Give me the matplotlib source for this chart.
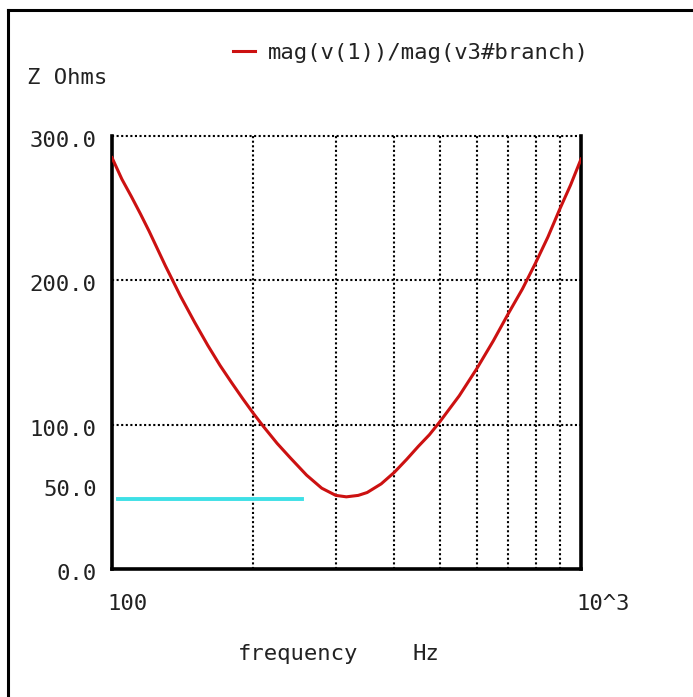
import matplotlib as mpl
import matplotlib.pyplot as plt
import matplotlib.transforms as mtransforms
from matplotlib.lines import Line2D
from matplotlib.ticker import FixedLocator, NullFormatter

plt.rcParams['font.family'] = ['DejaVu Sans Mono']

# impedance trace
freq = [100, 105, 110, 115, 120, 130, 140, 150, 160, 170, 180, 190, 200, 210, 225, 240, 260, 280,
        300, 316, 335, 350, 375, 400, 425, 450, 475, 500, 550, 600, 650, 700, 750, 800, 850, 900, 950, 1000]
z_ohms = [285, 270, 258, 246, 234, 210, 189, 171, 155, 141, 129, 118, 108, 99, 87, 77, 65, 56,
          51, 50, 51, 53, 59, 67, 76, 85, 93, 102, 120, 139, 158, 177, 194, 212, 230, 249, 266, 284]

# cyan marker line
ref_freq = [103, 254]
ref_z = [48.5, 48.5]

y_ticks = [0, 50, 100, 200, 300]
y_labels = ["0.0", "50.0", "100.0", "200.0", "300.0"]
y_grid = [100, 200, 300]
x_ticks = [100, 1000]
x_labels = ["100", "10^3"]
x_grid = [200, 300, 400, 500, 600, 700, 800, 900]

W, H = 693, 697
fig = plt.figure(figsize=(W / 100, H / 100), dpi=100)
ax = fig.add_axes([112 / W, 128 / H, 469 / W, 433 / H])

ax.plot(freq, z_ohms, color='#cc1111', lw=2.2, label="mag(v(1))/mag(v3#branch)", zorder=4)
ax.plot(ref_freq, ref_z, color='#3ee0e6', lw=2.8, zorder=3)

ax.set_xscale('log')
ax.set_xlim(100, 1000)
ax.set_ylim(0, 300)

ax.set_xticks(x_ticks)
ax.set_xticklabels(x_labels)
ax.xaxis.set_minor_locator(FixedLocator(x_grid))
ax.xaxis.set_minor_formatter(NullFormatter())
ax.set_yticks(y_ticks)
ax.set_yticklabels(y_labels)

ax.tick_params(which='both', length=0, labelsize=16, colors='#222222')
ax.tick_params(axis='x', pad=18)
ax.tick_params(axis='y', pad=11)

grid_kw = dict(color='black', lw=1.5, linestyle=(0, (1, 1.2)))
ax.grid(False)
ax.grid(which='minor', axis='x', **grid_kw)
for yv in y_grid:
    ax.axhline(yv, zorder=1, clip_on=False, **grid_kw)

for side in ['left', 'right', 'bottom']:
    ax.spines[side].set_linewidth(2.6)
    ax.spines[side].set_color('black')
ax.spines['top'].set_visible(False)

# label nudges to match the original layout
for lbl in ax.get_xticklabels():
    lbl.set_horizontalalignment('left')
    lbl.set_transform(lbl.get_transform() + mtransforms.ScaledTranslation(-5 / 100, 0, fig.dpi_scale_trans))
for val, lbl in zip(y_ticks, ax.get_yticklabels()):
    dy = 9 if val == 50 else -3
    lbl.set_transform(lbl.get_transform() + mtransforms.ScaledTranslation(0, dy / 100, fig.dpi_scale_trans))

ax.legend(loc='center left', bbox_to_anchor=(222 / W, 1 - 53 / H), bbox_transform=fig.transFigure,
          frameon=False, fontsize=16, handlelength=1.0, handletextpad=0.55, borderpad=0,
          labelcolor='#222222')

fig.text(27 / W, 1 - 78 / H, "Z Ohms", fontsize=16, ha='left', va='center', color='#222222')
fig.text(238 / W, 1 - 654 / H, "frequency", fontsize=16, ha='left', va='center', color='#222222')
fig.text(413 / W, 1 - 654 / H, "Hz", fontsize=16, ha='left', va='center', color='#222222')

# screenshot frame (top and left only)
fig.add_artist(Line2D([8 / W, 8 / W], [0, 1 - 10 / H], color='black', lw=2.2, transform=fig.transFigure))
fig.add_artist(Line2D([8 / W, 1], [1 - 10 / H, 1 - 10 / H], color='black', lw=2.2, transform=fig.transFigure))

plt.savefig("out.png", dpi=100)
